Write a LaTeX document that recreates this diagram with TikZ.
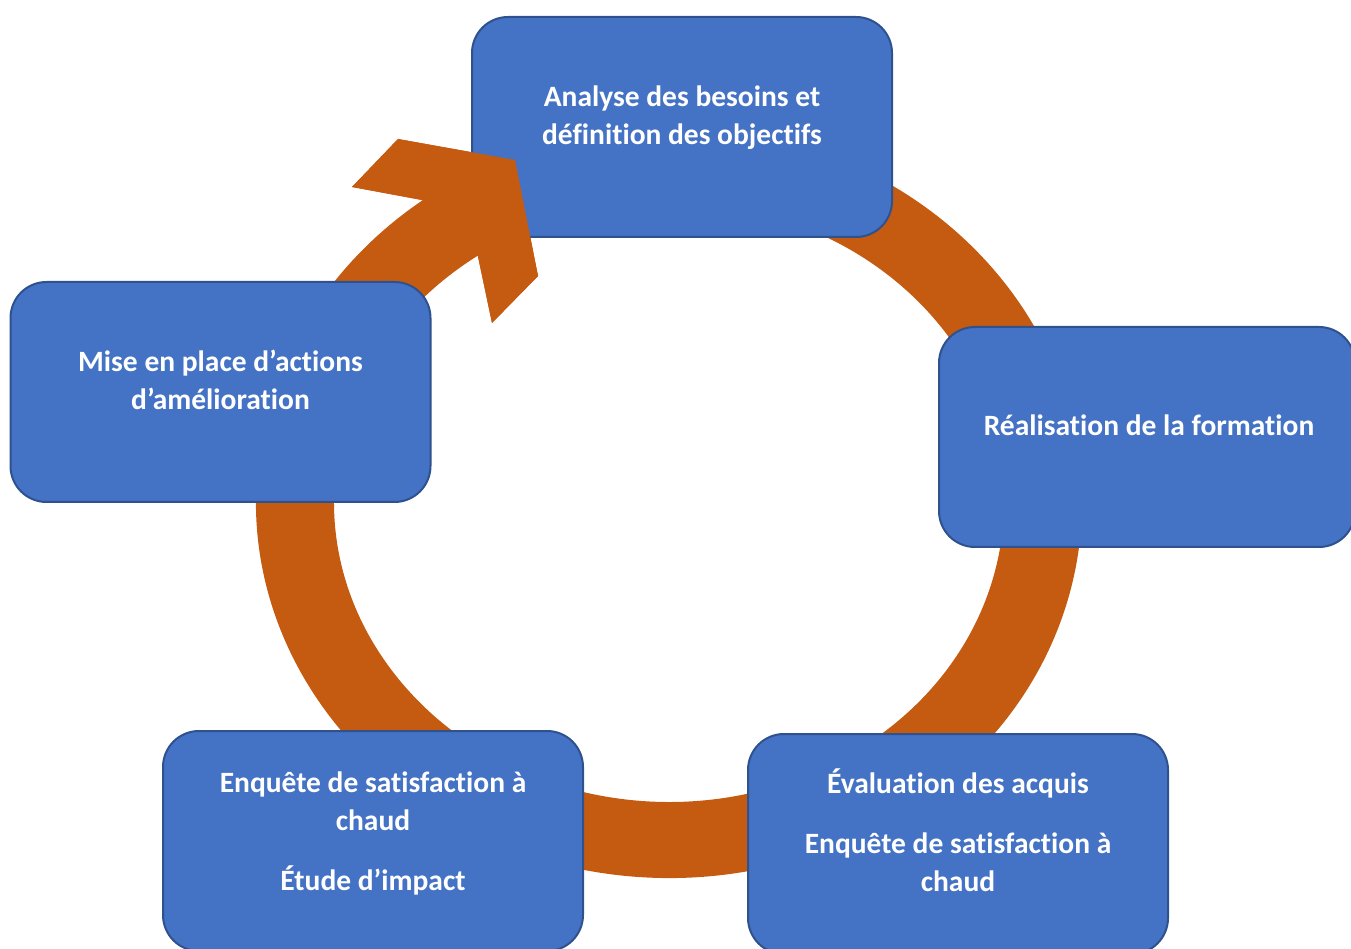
\documentclass[tikz,border=0pt]{standalone}
\usepackage{fontspec}
\setmainfont[Ligatures=NoCommon]{Carlito}
\usetikzlibrary{calc}
\definecolor{ringorange}{HTML}{C55A11}
\definecolor{boxblue}{HTML}{4472C4}
\definecolor{boxedge}{HTML}{2F528F}
\begin{document}
\begin{tikzpicture}[x=1pt, y=1pt,
    stage/.style={draw=boxedge, line width=2pt, fill=boxblue, rounded corners=36pt,
        minimum width=420pt, minimum height=220pt, inner sep=0pt},
    stagetext/.style={text=white, font=\fontsize{29.5}{38}\selectfont\bfseries, align=center}]
    \useasboundingbox (0,0) rectangle (1351,948);
    \coordinate (ctr) at (669,446);
    % arrow head corners
    \coordinate (hA) at (352,761);
    \coordinate (hB) at (398,809);
    \coordinate (hC) at (515,788);
    \coordinate (hD) at (538,672);
    \coordinate (hE) at (492,625);
    \coordinate (hF) at ($(ctr)+(124.8:335 and 300)$);
    \coordinate (hG) at ($(ctr)+(126.6:413 and 376)$);
    % ring, clockwise
    \fill[ringorange] ($(ctr)+(80:413 and 376)$)
        arc[start angle=80, end angle=-233.4, x radius=413, y radius=376]
        -- (hA) -- (hB) -- (hC) -- (hD) -- (hE) -- (hF)
        arc[start angle=-235.2, end angle=80, x radius=335, y radius=300] -- cycle;
    % stages
    \node[stage] (analyse) at (682,821) {};
    \node[stage, minimum width=416pt] (realisation) at (1147,511) {};
    \node[stage] (evaluation) at (958,104) {};
    \node[stage] (enquete) at (373,107) {};
    \node[stage] (amelioration) at (220.5,556) {};
    % head lies over the first stage
    \fill[ringorange] (hG) -- (hA) -- (hB) -- (hC) -- (hD) -- (hE) -- (hF) -- cycle;
    \node[stagetext] (analyse-txt) at ($(analyse.center)+(0,9)$)
        {Analyse des besoins et\\définition des objectifs};
    \node[stagetext] (realisation-txt) at ($(realisation.center)+(2,12)$)
        {Réalisation de la formation};
    \node[stagetext] (evaluation-txt) at ($(evaluation.center)+(0,14)$)
        {Évaluation des acquis\\[22pt]Enquête de satisfaction à\\chaud};
    \node[stagetext] (enquete-txt) at ($(enquete.center)+(0,8)$)
        {Enquête de satisfaction à\\chaud\\[22pt]Étude d’impact};
    \node[stagetext] (amelioration-txt) at ($(amelioration.center)+(0,12)$)
        {Mise en place d’actions\\d’amélioration};
\end{tikzpicture}
\end{document}
